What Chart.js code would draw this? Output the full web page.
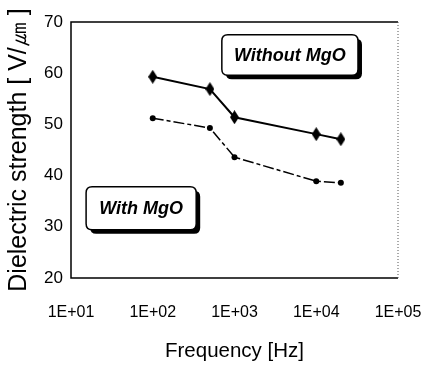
<!DOCTYPE html>
<html>
<head>
<meta charset="utf-8">
<style>
  html, body { margin: 0; padding: 0; background: #fff; }
  #wrap { width: 423px; height: 366px; }
</style>
<script src="https://cdn.jsdelivr.net/npm/chart.js@4/dist/chart.umd.min.js"></script>
</head>
<body>
<div id="wrap"><canvas id="c" width="423" height="366"></canvas></div>
<script>
// Measurement frequencies (Hz) and dielectric strength (V/um)
const frequencies = [100, 500, 1000, 10000, 20000];
const withoutMgO = [59.3, 56.9, 51.4, 48.1, 47.1];
const withMgO = [51.2, 49.3, 43.6, 38.9, 38.6];
const xTickLabels = ['1E+01', '1E+02', '1E+03', '1E+04', '1E+05'];
const yTicks = [20, 30, 40, 50, 60, 70];

const FONT = '"Liberation Sans", Arial, sans-serif';

// Tall diamond marker for the upper series
function tallDiamond(w, h) {
  const cv = document.createElement('canvas');
  cv.width = w; cv.height = h;
  const g = cv.getContext('2d');
  g.fillStyle = '#000';
  g.beginPath();
  g.moveTo(w / 2, 0);
  g.lineTo(w, h / 2);
  g.lineTo(w / 2, h);
  g.lineTo(0, h / 2);
  g.closePath();
  g.fill();
  return cv;
}

const toPoints = (ys) => frequencies.map((f, i) => ({ x: f, y: ys[i] }));

// Rounded callout boxes naming each curve, anchored in data space
const callouts = [
  { dataset: 0, x0: 700, x1: 32400, y0: 67.5, y1: 59.6 },
  { dataset: 1, x0: 15.3, x1: 340, y0: 37.8, y1: 29.4 }
];

function roundRect(ctx, x, y, w, h, r) {
  ctx.beginPath();
  ctx.moveTo(x + r, y);
  ctx.lineTo(x + w - r, y);
  ctx.quadraticCurveTo(x + w, y, x + w, y + r);
  ctx.lineTo(x + w, y + h - r);
  ctx.quadraticCurveTo(x + w, y + h, x + w - r, y + h);
  ctx.lineTo(x + r, y + h);
  ctx.quadraticCurveTo(x, y + h, x, y + h - r);
  ctx.lineTo(x, y + r);
  ctx.quadraticCurveTo(x, y, x + r, y);
  ctx.closePath();
}

const framePlugin = {
  id: 'frame',
  beforeDatasetsDraw(chart) {
    const { ctx, chartArea: a } = chart;
    ctx.save();
    ctx.strokeStyle = '#000';
    ctx.lineWidth = 1.5;
    ctx.beginPath();
    ctx.moveTo(a.right, a.top);
    ctx.lineTo(a.left, a.top);
    ctx.lineTo(a.left, a.bottom);
    ctx.lineTo(a.right, a.bottom);
    ctx.stroke();
    ctx.lineWidth = 1;
    ctx.strokeStyle = '#555';
    ctx.setLineDash([1, 2]);
    ctx.beginPath();
    ctx.moveTo(a.right, a.top);
    ctx.lineTo(a.right, a.bottom);
    ctx.stroke();
    ctx.restore();
  },
  afterDatasetsDraw(chart) {
    const { ctx, scales: { x, y } } = chart;
    ctx.save();
    callouts.forEach(c => {
      const l = x.getPixelForValue(c.x0), r = x.getPixelForValue(c.x1);
      const t = y.getPixelForValue(c.y0), b = y.getPixelForValue(c.y1);
      const w = r - l, h = b - t;
      ctx.fillStyle = '#000';
      roundRect(ctx, l + 4, t + 4, w, h, 6);
      ctx.fill();
      ctx.fillStyle = '#fff';
      roundRect(ctx, l, t, w, h, 6);
      ctx.fill();
      ctx.lineWidth = 1.5;
      ctx.strokeStyle = '#000';
      ctx.stroke();
      ctx.fillStyle = '#000';
      ctx.font = 'italic bold 18px ' + FONT;
      ctx.textAlign = 'center';
      ctx.textBaseline = 'middle';
      ctx.fillText(chart.data.datasets[c.dataset].label, l + w / 2, t + h / 2 + 1);
    });
    ctx.restore();
  }
};

new Chart(document.getElementById('c'), {
  type: 'scatter',
  data: {
    datasets: [
      {
        label: 'Without MgO',
        data: toPoints(withoutMgO),
        showLine: true,
        borderColor: '#000',
        borderWidth: 2,
        pointStyle: tallDiamond(9, 14),
        backgroundColor: '#000'
      },
      {
        label: 'With MgO',
        data: toPoints(withMgO),
        showLine: true,
        borderColor: '#000',
        borderWidth: 1.5,
        borderDash: [11, 3, 4, 3],
        pointStyle: 'circle',
        pointRadius: 3,
        pointBorderWidth: 0,
        backgroundColor: '#000'
      }
    ]
  },
  options: {
    responsive: false,
    animation: false,
    layout: { padding: { top: 22, right: 25, left: 0, bottom: 0 } },
    plugins: {
      legend: { display: false },
      tooltip: { enabled: false }
    },
    scales: {
      x: {
        type: 'logarithmic',
        min: 10,
        max: 100000,
        afterBuildTicks(scale) {
          scale.ticks = xTickLabels.map((_, i) => ({ value: Math.pow(10, i + 1) }));
        },
        afterFit(scale) {
          scale.height = 88;
          scale.paddingLeft = 0;
          scale.paddingRight = 0;
        },
        grid: { display: false, drawTicks: false },
        border: { display: false },
        ticks: {
          autoSkip: false,
          maxRotation: 0,
          padding: 25,
          color: '#000',
          font: { family: FONT, size: 16 },
          callback: (v, i) => xTickLabels[i]
        },
        title: {
          display: true,
          text: 'Frequency [Hz]',
          color: '#000',
          font: { family: FONT, size: 20.5 },
          padding: { top: 0, bottom: 2 }
        }
      },
      y: {
        min: 20,
        max: 70,
        afterBuildTicks(scale) {
          scale.ticks = yTicks.map(v => ({ value: v }));
        },
        afterFit(scale) { scale.width = 71; },
        grid: { display: false, drawTicks: false },
        border: { display: false },
        ticks: {
          padding: 8,
          color: '#000',
          font: { family: FONT, size: 17 }
        },
        title: {
          display: true,
          text: 'Dielectric strength [ V/㎛ ]',
          color: '#000',
          font: { family: FONT, size: 25 },
          padding: { top: 4, bottom: 0 }
        }
      }
    }
  },
  plugins: [framePlugin]
});
</script>
</body>
</html>
